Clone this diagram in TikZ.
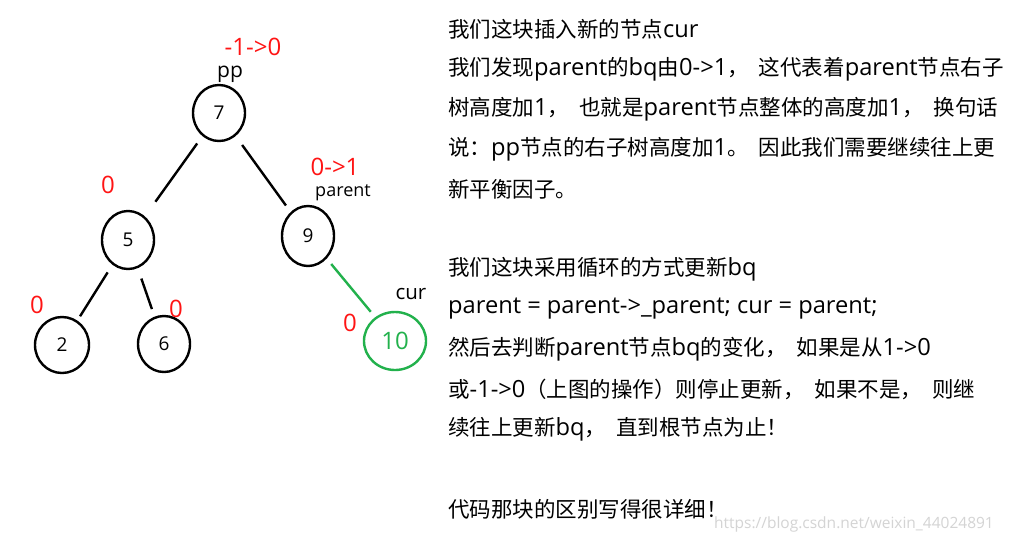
\documentclass[tikz,border=0pt]{standalone}
\usepackage{fontspec}
\setmainfont{Noto Sans CJK SC}
\newfontfamily\lat{Open Sans}
\newfontfamily\txtlat[Scale=1.1]{Open Sans}
\usepackage{tikz}
\usetikzlibrary{shapes.geometric,positioning}
\usepackage{xcolor}
\definecolor{bfred}{RGB}{255,20,20}
\definecolor{bfgreen}{RGB}{34,177,76}
\definecolor{bfgray}{RGB}{212,212,212}
\newcommand{\cgap}{\hspace{10pt}}
\tikzstyle{treenode} = [ellipse, draw=black, line width=2.4pt, minimum width=52pt, minimum height=56pt, inner sep=0pt, font=\lat\fontsize{19}{21}\selectfont]
\tikzstyle{edge} = [line width=2.4pt, shorten <=9pt, shorten >=8pt]

\begin{document}
\begin{tikzpicture}[x=1pt, y=-1pt,
    bf/.style={text=bfred, inner sep=0pt, font=\lat\fontsize{24}{26}\selectfont},
    tag/.style={inner sep=0pt, font=\lat\fontsize{21}{23}\selectfont},
    note/.style={anchor=west, inner sep=0pt, font=\fontsize{21.5}{24}\selectfont}]

\useasboundingbox[fill=white] (0,0) rectangle (1024,542);

% Tree nodes
\node[treenode] (n7) at (219,113) {7};
\node[treenode, minimum height=58pt] (n5) at (128,240) {5};
\node[treenode, minimum height=60pt] (n9) at (308,236) {9};
\node[treenode, minimum width=54pt] (n2) at (62,345) {2};
\node[treenode] (n6) at (164,344) {6};
\node[treenode, draw=bfgreen, text=bfgreen, minimum width=62pt, minimum height=58pt, font=\lat\fontsize{24}{26}\selectfont] (n10) at (395,341) {10};

% Balance factors
\node[bf] (b7) at (253,47) {-1->0};
\node[bf] (b5) at (108,185) {0};
\node[bf] (b9) at (335,167) {0->1};
\node[bf] (b2) at (37,305) {0};
\node[bf] (b6) at (176,309) {0};
\node[bf] (b10) at (350,323) {0};

% Pointer names
\node[tag] (pp) at (230,74) {pp};
\node[tag, font=\lat\fontsize{18}{20}\selectfont] (par) at (343,193) {parent};
\node[tag, font=\lat\fontsize{20.5}{22}\selectfont] (cur) at (411,294) {cur};

% Edges
\draw[edge, shorten >=18pt] (n7) -- (n5);
\draw[edge, shorten <=11pt] (n7) -- (n9);
\draw[edge, shorten >=5pt] (n5) -- (n2);
\draw[edge, shorten <=11pt] (n5) -- (n6);
\draw[edge, bfgreen, shorten <=7pt, shorten >=7pt] (n9) -- (n10);

% Explanation
\node[note] (t1) at (448,29) {我们这块插入新的节点{\txtlat cur}};
\node[note] (t2) at (448,69) {我们发现{\txtlat parent}的{\txtlat bq}由{\txtlat 0->1}，\cgap 这代表着{\txtlat parent}节点右子};
\node[note] (t3) at (448,109) {树高度加{\txtlat 1}，\cgap 也就是{\txtlat parent}节点整体的高度加{\txtlat 1}，\cgap 换句话};
\node[note] (t4) at (448,149) {说：{\txtlat pp}节点的右子树高度加{\txtlat 1}。\cgap 因此我们需要继续往上更};
\node[note] (t5) at (448,189) {新平衡因子。};

\node[note] (t6) at (448,269) {我们这块采用循环的方式更新{\txtlat bq}};
\node[note] (t7) at (448,309) {\txtlat parent = parent->\_parent; cur = parent;};
\node[note] (t8) at (448,349) {然后去判断{\txtlat parent}节点{\txtlat bq}的变化，\cgap 如果是从{\txtlat 1->0}};
\node[note] (t9) at (448,389) {或{\txtlat -1->0}（上图的操作）则停止更新，\cgap 如果不是，\cgap 则继};
\node[note] (t10) at (448,429) {续往上更新{\txtlat bq}，\cgap 直到根节点为止！};

\node[note] (t11) at (448,509) {代码那块的区别写得很详细！};

% Watermark
\node[note, text=bfgray, font=\lat\fontsize{15.5}{17}\selectfont] (wm) at (714,524) {https://blog.csdn.net/weixin\_44024891};
\end{tikzpicture}
\end{document}
